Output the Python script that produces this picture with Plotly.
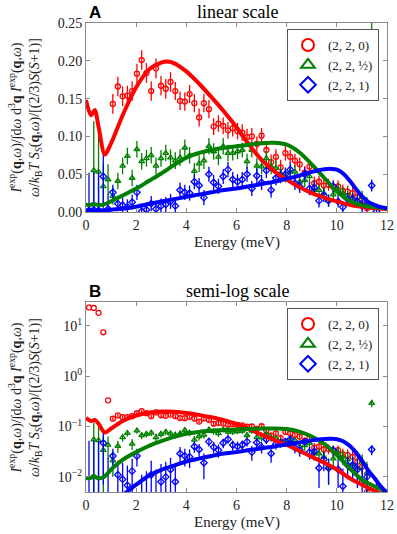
import plotly.graph_objects as go

# energy grid of the measured points (meV)
energy = [0.12, 0.31, 0.50, 0.69, 0.88, 1.07, 1.27, 1.46, 1.65, 1.84,
          2.03, 2.22, 2.41, 2.60, 2.79, 2.99, 3.18, 3.37, 3.56, 3.75,
          3.94, 4.13, 4.32, 4.51, 4.70, 4.90, 5.09, 5.28, 5.47, 5.66,
          5.85, 6.04, 6.23, 6.42, 6.61, 6.81, 7.00, 7.19, 7.38, 7.57,
          7.76, 7.95, 8.14, 8.33, 8.52, 8.72, 8.91, 9.10, 9.29, 9.48,
          9.67, 9.86, 10.05, 10.24, 10.43, 10.63, 10.82, 11.01, 11.20, 11.39,
          11.58]

# (2,2,0)
red_pts = [23.0, 22.5, 18.0, 7.4, 0.33, 0.143, 0.166, 0.153, 0.154, 0.160,
           0.183, 0.201, 0.184, 0.160, 0.190, 0.167, 0.163, 0.172, 0.160, 0.147,
           0.146, 0.156, 0.144, 0.125, 0.144, 0.136, 0.113, 0.117, 0.114, 0.108,
           0.111, 0.107, 0.105, 0.099, 0.100, 0.090, 0.101, 0.082, 0.066, 0.073,
           0.059, 0.078, 0.073, 0.068, 0.063, 0.052, 0.060, 0.038, 0.040, 0.035,
           0.036, 0.033, 0.034, 0.028, 0.027, 0.025, 0.020, 0.016, 0.005, None,
           None]
red_err = [0, 0, 0, 0, 0, 0.013, 0.013, 0.013, 0.013, 0.013,
           0.013, 0.013, 0.013, 0.013, 0.013, 0.013, 0.013, 0.013, 0.012, 0.012,
           0.012, 0.012, 0.012, 0.012, 0.012, 0.012, 0.011, 0.011, 0.011, 0.011,
           0.011, 0.011, 0.011, 0.011, 0.011, 0.010, 0.010, 0.010, 0.010, 0.010,
           0.010, 0.010, 0.009, 0.009, 0.009, 0.009, 0.009, 0.009, 0.008, 0.008,
           0.008, 0.008, 0.008, 0.008, 0.008, 0.008, 0.008, 0.008, 0.008, 0,
           0]

# (2,2,1/2)
green_pts = [None, 0.055, 0.053, 0.034, 0.043, 0.021, 0.041, 0.061, 0.074, 0.045,
             0.083, 0.067, 0.071, 0.075, 0.061, 0.071, 0.078, 0.072, 0.068, 0.072,
             0.085, 0.075, 0.054, 0.064, 0.068, 0.087, 0.080, 0.073, 0.087, 0.078,
             0.078, 0.080, 0.082, 0.067, 0.082, 0.061, 0.060, 0.071, 0.060, 0.058,
             0.051, 0.048, 0.053, 0.053, 0.040, 0.042, 0.047, 0.029, 0.029, 0.025,
             0.015, 0.023, 0.030, 0.025, 0.022, 0.018, 0.015, 0.020, 0.012, 0.29,
             None]
green_err = [0, 0.065, 0.065, 0.030, 0.020, 0.011, 0.011, 0.011, 0.011, 0.011,
             0.011, 0.011, 0.011, 0.011, 0.011, 0.011, 0.011, 0.011, 0.011, 0.011,
             0.011, 0.011, 0.011, 0.011, 0.011, 0.011, 0.011, 0.011, 0.011, 0.011,
             0.010, 0.010, 0.010, 0.010, 0.010, 0.010, 0.010, 0.010, 0.010, 0.010,
             0.009, 0.009, 0.009, 0.009, 0.009, 0.009, 0.009, 0.008, 0.008, 0.008,
             0.008, 0.008, 0.008, 0.008, 0.008, 0.008, 0.008, 0.008, 0.008, 0.05,
             0]

# (2,2,1)
blue_pts = [0.002, 0.003, 0.002, 0.047, 0.004, 0.026, 0.011, 0.009, 0.0068, 0.013,
            0.026, 0.001, 0.003, 0.011, 0.004, 0.008, 0.010, 0.014, 0.008, 0.029,
            0.026, 0.025, 0.040, 0.035, 0.019, 0.050, 0.039, 0.034, 0.047, 0.056,
            0.043, 0.040, 0.043, 0.050, 0.031, 0.048, 0.039, 0.055, 0.029, 0.045,
            0.047, 0.050, 0.056, 0.038, 0.034, 0.050, 0.031, 0.032, 0.015, 0.022,
            0.015, 0.034, 0.014, 0.0065, 0.017, 0.017, 0.014, 0.008, 0.010, 0.035,
            0.001]
blue_err = [0.05, 0.05, 0.05, 0.04, 0.02, 0.010, 0.010, 0.010, 0.010, 0.010,
            0.010, 0.010, 0.010, 0.010, 0.010, 0.010, 0.010, 0.010, 0.010, 0.010,
            0.010, 0.010, 0.010, 0.010, 0.010, 0.010, 0.010, 0.010, 0.010, 0.010,
            0.010, 0.010, 0.010, 0.010, 0.010, 0.010, 0.010, 0.010, 0.010, 0.010,
            0.009, 0.009, 0.009, 0.009, 0.009, 0.009, 0.009, 0.009, 0.009, 0.009,
            0.008, 0.008, 0.008, 0.008, 0.008, 0.008, 0.008, 0.008, 0.008, 0.008,
            0.008]

# model curves
red_E = [0, 0.2, 0.35, 0.5, 0.75, 1.0, 1.5, 2.0, 2.5, 3.0, 3.25, 3.5, 4.0, 4.5, 5.0,
         5.5, 6.0, 6.5, 7.0, 7.5, 8.0, 8.5, 9.0, 9.5, 10.0, 10.5, 11.0, 11.5, 12.0]
red_fit = [0.148, 0.128, 0.135, 0.113, 0.076, 0.091, 0.131, 0.165, 0.188, 0.1975, 0.199,
           0.197, 0.186, 0.170, 0.152, 0.133, 0.112, 0.089, 0.069, 0.054, 0.043, 0.033,
           0.025, 0.019, 0.014, 0.0095, 0.007, 0.0053, 0.004]
green_E = [0, 0.2, 0.3, 0.45, 0.7, 1.0, 1.5, 2.0, 2.5, 3.0, 3.5, 4.0, 4.5, 5.0, 5.5,
           6.0, 6.5, 7.0, 7.5, 8.0, 8.5, 9.0, 9.5, 10.0, 10.5, 11.0, 11.5, 12.0]
green_fit = [0.0095, 0.0095, 0.0105, 0.0095, 0.0098, 0.014, 0.0225, 0.031, 0.041, 0.051,
             0.062, 0.072, 0.078, 0.082, 0.085, 0.087, 0.089, 0.091, 0.0915, 0.089,
             0.079, 0.063, 0.045, 0.027, 0.015, 0.0088, 0.0065, 0.005]
blue_E = [0, 0.5, 0.8, 1.0, 1.5, 2.0, 2.5, 3.0, 3.5, 4.0, 4.5, 5.0, 5.5, 6.0, 6.5, 7.0,
          7.5, 8.0, 8.5, 9.0, 9.5, 9.8, 10.0, 10.25, 10.5, 10.75, 11.0, 11.25, 11.5,
          11.75, 12.0]
blue_fit = [0.002, 0.002, 0.0022, 0.003, 0.0045, 0.007, 0.0105, 0.0138, 0.0168, 0.0202,
            0.023, 0.026, 0.029, 0.031, 0.034, 0.037, 0.040, 0.044, 0.048, 0.053,
            0.0565, 0.057, 0.056, 0.051, 0.042, 0.031, 0.021, 0.0135, 0.0095, 0.0065,
            0.0048]

labels = ["(2, 2, 0)", "(2, 2, ½)", "(2, 2, 1)"]
colors = ["#ff0000", "#008000", "#0000ff"]
symbols = ["circle-open", "triangle-up-open", "diamond-open"]

SERIF = "Liberation Serif"
AXC = "#8a8a8a"

series = [(red_pts, red_err, red_E, red_fit),
          (green_pts, green_err, green_E, green_fit),
          (blue_pts, blue_err, blue_E, blue_fit)]

fig = go.Figure()

for xa, ya, leg in [("x", "y", "legend"), ("x2", "y2", "legend2")]:
    for i, (pts, err, fe, fv) in enumerate(series):
        fig.add_trace(go.Scatter(
            x=energy, y=pts, mode="markers", name=labels[i],
            xaxis=xa, yaxis=ya, legend=leg,
            marker=dict(symbol=symbols[i], size=5, color=colors[i],
                        line=dict(width=1.3, color=colors[i])),
            error_y=dict(type="data", array=err, visible=True, width=0,
                         thickness=1.3, color=colors[i]),
        ))
    for i, (pts, err, fe, fv) in enumerate(series):
        fig.add_trace(go.Scatter(
            x=fe, y=fv, mode="lines", showlegend=False,
            xaxis=xa, yaxis=ya,
            line=dict(color=colors[i], width=4, shape="spline", smoothing=0.8),
        ))

axis_common = dict(showline=True, mirror="ticks", linecolor=AXC, linewidth=1,
                   ticks="inside", ticklen=4, tickcolor=AXC, showgrid=False,
                   zeroline=False, automargin=False,
                   tickfont=dict(family=SERIF, size=14, color="#222"))


def ytop(py):
    return (492 - py) / 469


def xpx(px):
    return (px - 86) / 301


legend_style = dict(xanchor="right", yanchor="top",
                    bgcolor="white", bordercolor="#555", borderwidth=1,
                    font=dict(family=SERIF, size=13, color="#222"),
                    itemsizing="constant", itemwidth=30, tracegroupgap=0)

fig.update_layout(
    width=397, height=534,
    margin=dict(l=86, r=10, t=23, b=42),
    plot_bgcolor="white", paper_bgcolor="white",
    xaxis=dict(domain=[0, 1], range=[0, 12], tickvals=[0, 2, 4, 6, 8, 10, 12],
               anchor="y", **axis_common),
    yaxis=dict(domain=[ytop(212), 1], range=[0, 0.25],
               tickvals=[0, 0.05, 0.10, 0.15, 0.20, 0.25], tickformat=".2f",
               anchor="x", **axis_common),
    xaxis2=dict(domain=[0, 1], range=[0, 12], tickvals=[0, 2, 4, 6, 8, 10, 12],
                anchor="y2", **axis_common),
    yaxis2=dict(domain=[0, ytop(302)], type="log", range=[-2.30, 1.47],
                tickvals=[0.01, 0.1, 1, 10],
                ticktext=["10<sup>−2</sup>", "10<sup>−1</sup>", "10<sup>0</sup>", "10<sup>1</sup>"],
                anchor="x2", **axis_common),
    legend=dict(x=xpx(379), y=ytop(29), **legend_style),
    legend2=dict(x=xpx(379), y=ytop(308), **legend_style),
)

ylab = ("<i>I</i><sup>exp</sup>(<b>q</b>,<i>ω</i>)/∫d<i>ω</i> d<sup>3</sup><b>q</b> "
        "<i>I</i><sup>exp</sup>(<b>q</b>,<i>ω</i>)<br>"
        "<i>ω</i>/<i>k</i><sub>B</sub><i>T</i> <i>S</i><sub><i>S</i></sub>(<b>q</b>,<i>ω</i>)"
        "/[(2/3)<i>S</i>(<i>S</i>+1)]")

annos = [
    dict(text="<b>A</b>", x=xpx(87), y=ytop(13), xanchor="left",
         font=dict(family="Liberation Sans", size=17, color="black")),
    dict(text="linear scale", x=xpx(237), y=ytop(12),
         font=dict(family=SERIF, size=18, color="black")),
    dict(text="<b>B</b>", x=xpx(87), y=ytop(291), xanchor="left",
         font=dict(family="Liberation Sans", size=17, color="black")),
    dict(text="semi-log scale", x=xpx(237), y=ytop(291),
         font=dict(family=SERIF, size=18, color="black")),
    dict(text="Energy (meV)", x=xpx(237), y=ytop(242),
         font=dict(family=SERIF, size=15, color="#222")),
    dict(text="Energy (meV)", x=xpx(237), y=ytop(522),
         font=dict(family=SERIF, size=15, color="#222")),
    dict(text=ylab, x=xpx(25), y=ytop(118), textangle=-90, xanchor="center",
         font=dict(family=SERIF, size=14, color="#222")),
    dict(text=ylab, x=xpx(25), y=ytop(398), textangle=-90, xanchor="center",
         font=dict(family=SERIF, size=14, color="#222")),
]
for a in annos:
    a.update(xref="paper", yref="paper", showarrow=False, yanchor="middle")
fig.update_layout(annotations=annos)

# page body margin would shift the figure by 8 px
fig.write_html("out.html", config={"displayModeBar": False},
               post_script="document.body.style.margin='0px';document.body.style.overflow='hidden';")
